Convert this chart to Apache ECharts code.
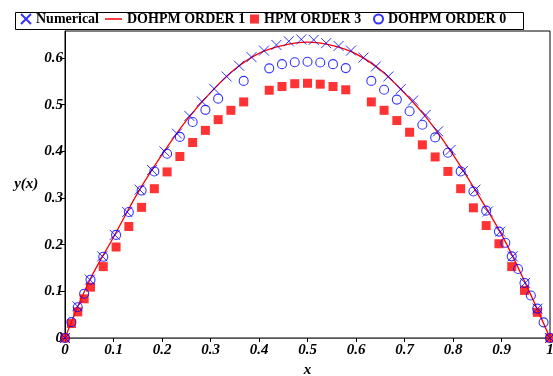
<!DOCTYPE html>
<html lang="en" style="height: 100%">
<head>
<meta charset="utf-8">
<title>DOHPM vs HPM</title>
</head>
<body style="height: 100%; margin: 0">
<div id="container" style="width: 553px; height: 376px"></div>

<script type="text/javascript" src="https://cdn.jsdelivr.net/npm/echarts/dist/echarts.min.js"></script>

<script type="text/javascript">
var dom = document.getElementById('container');
var myChart = echarts.init(dom, null, { renderer: 'canvas' });
var option;

// Numerical solution (blue crosses)
var numX = [0, 0.0256, 0.0513, 0.0769, 0.1026, 0.1282, 0.1538, 0.1795, 0.2051, 0.2308,
    0.2564, 0.2821, 0.3077, 0.3333, 0.359, 0.3846, 0.4103, 0.4359, 0.4615, 0.4872,
    0.5128, 0.5385, 0.5641, 0.5897, 0.6154, 0.641, 0.6667, 0.6923, 0.7179, 0.7436,
    0.7692, 0.7949, 0.8205, 0.8462, 0.8718, 0.8974, 0.9231, 0.9487, 0.9744, 1];
var numY = [0, 0.068, 0.125, 0.175, 0.221, 0.270, 0.318, 0.360, 0.400, 0.438,
    0.476, 0.507, 0.534, 0.5605, 0.5835, 0.602, 0.616, 0.628, 0.636, 0.640,
    0.639, 0.632, 0.626, 0.616, 0.601, 0.582, 0.5605, 0.5335, 0.509, 0.478,
    0.443, 0.403, 0.358, 0.318, 0.271, 0.228, 0.175, 0.118, 0.063, 0];

// DOHPM order 1 (red line)
var order1X = [0, 0.05, 0.1, 0.15, 0.2, 0.25, 0.3, 0.35, 0.4, 0.45, 0.5,
    0.55, 0.6, 0.65, 0.7, 0.75, 0.8, 0.85, 0.9, 0.95, 1];
var order1Y = [0, 0.122, 0.216, 0.311, 0.393, 0.466, 0.526, 0.576, 0.610, 0.627, 0.634,
    0.627, 0.609, 0.575, 0.525, 0.466, 0.393, 0.310, 0.222, 0.116, 0];

// HPM order 3 (red squares)
var hpmX = [0, 0.0132, 0.0263, 0.0395, 0.0526, 0.0789, 0.1053, 0.1316, 0.1579, 0.1842,
    0.2105, 0.2368, 0.2632, 0.2895, 0.3158, 0.3421, 0.3684, 0.4211, 0.4474, 0.4737,
    0.5, 0.5263, 0.5526, 0.5789, 0.6316, 0.6579, 0.6842, 0.7105, 0.7368, 0.7632,
    0.7895, 0.8158, 0.8421, 0.8684, 0.8947, 0.9211, 0.9474, 0.9737, 1];
var hpmY = [0, 0.031, 0.056, 0.084, 0.109, 0.153, 0.195, 0.239, 0.280, 0.320,
    0.356, 0.389, 0.419, 0.445, 0.468, 0.488, 0.506, 0.531, 0.539, 0.545,
    0.546, 0.544, 0.539, 0.532, 0.506, 0.488, 0.466, 0.441, 0.414, 0.388,
    0.357, 0.320, 0.279, 0.241, 0.202, 0.153, 0.102, 0.055, 0];

// DOHPM order 0 (blue circles)
var order0X = [0, 0.0132, 0.0263, 0.0395, 0.0526, 0.0789, 0.1053, 0.1316, 0.1579, 0.1842,
    0.2105, 0.2368, 0.2632, 0.2895, 0.3158, 0.3684, 0.4211, 0.4474, 0.4737, 0.5,
    0.5263, 0.5526, 0.5789, 0.6316, 0.6579, 0.6842, 0.7105, 0.7368, 0.7632, 0.7895,
    0.8158, 0.8421, 0.8684, 0.8947, 0.9079, 0.9211, 0.9342, 0.9474, 0.9605, 0.9737,
    0.9868, 1];
var order0Y = [0, 0.034, 0.066, 0.095, 0.125, 0.174, 0.221, 0.270, 0.316, 0.357,
    0.395, 0.431, 0.463, 0.489, 0.513, 0.551, 0.578, 0.587, 0.591, 0.592,
    0.5905, 0.587, 0.5785, 0.551, 0.532, 0.511, 0.486, 0.457, 0.430, 0.397,
    0.357, 0.314, 0.273, 0.228, 0.204, 0.175, 0.148, 0.118, 0.091, 0.063,
    0.0335, 0];

var yTicks = [0, 0.1, 0.2, 0.3, 0.4, 0.5, 0.6];

function pairs(xs, ys) {
    return xs.map(function (x, i) { return [x, ys[i]]; });
}

var serif = 'Liberation Serif';
var tickFont = { fontFamily: serif, fontWeight: 'bold', fontStyle: 'italic', fontSize: 15, color: '#000' };
var legendFont = { fontFamily: serif, fontWeight: 'bold', fontSize: 14, color: '#000' };
var crossPath = 'path://M0,0L10,10M10,0L0,10';

function legendAt(name, left, w, h, icon) {
    var item = { name: name };
    if (icon) item.icon = icon;
    return {
        data: [item], left: left, top: 12, itemWidth: w, itemHeight: h,
        padding: 0, selectedMode: false, textStyle: legendFont
    };
}

option = {
    animation: false,
    backgroundColor: '#fff',
    graphic: [{
        type: 'rect', left: 13, top: 10,
        shape: { width: 508, height: 17 },
        style: { fill: 'none', stroke: '#000', lineWidth: 1 }
    }],
    legend: [
        legendAt('Numerical', 20, 10, 10),
        legendAt('DOHPM ORDER 1', 105, 17, 1.5, 'rect'),
        legendAt('HPM ORDER 3', 250, 9, 9),
        legendAt('DOHPM ORDER 0', 373, 9, 9)
    ],
    grid: {
        left: 65, right: 3, top: 31, bottom: 38,
        containLabel: false, outerBoundsMode: 'none',
        show: true, borderColor: '#000', borderWidth: 1
    },
    xAxis: {
        type: 'value', min: 0, max: 1, interval: 0.1,
        name: 'x', nameLocation: 'middle', nameGap: 22,
        nameTextStyle: tickFont,
        axisLine: { lineStyle: { color: '#555', width: 1 } },
        axisTick: { length: 4, lineStyle: { color: '#000' } },
        axisLabel: Object.assign({ margin: 5 }, tickFont),
        splitLine: { show: false }
    },
    yAxis: {
        type: 'value', min: 0, max: 0.658,
        name: 'y(x)', nameLocation: 'middle', nameGap: 18, nameRotate: 0,
        nameTextStyle: tickFont,
        axisLine: { show: true, lineStyle: { color: '#000', width: 1 } },
        axisTick: { show: true, length: 5, customValues: yTicks, lineStyle: { color: '#000' } },
        axisLabel: Object.assign({ margin: 2, customValues: yTicks }, tickFont),
        splitLine: { show: false }
    },
    series: [
        {
            name: 'Numerical', type: 'scatter', z: 5,
            symbol: crossPath, symbolSize: 10,
            itemStyle: { color: 'rgba(0,0,0,0)', borderColor: '#0000ff', borderWidth: 1 },
            data: pairs(numX, numY)
        },
        {
            name: 'DOHPM ORDER 1', type: 'line', z: 3,
            smooth: 0.35, showSymbol: false, symbol: 'none',
            lineStyle: { color: '#ff0000', width: 1.3 },
            itemStyle: { color: '#ff0000' },
            data: pairs(order1X, order1Y)
        },
        {
            name: 'HPM ORDER 3', type: 'scatter', z: 2,
            symbol: 'rect', symbolSize: 9,
            itemStyle: { color: '#ff0000' },
            data: pairs(hpmX, hpmY)
        },
        {
            name: 'DOHPM ORDER 0', type: 'scatter', z: 4,
            symbol: 'circle', symbolSize: 9,
            itemStyle: { color: 'rgba(0,0,0,0)', borderColor: '#0000ff', borderWidth: 1.1 },
            data: pairs(order0X, order0Y)
        }
    ]
};

if (option && typeof option === 'object') {
    myChart.setOption(option);
}

window.addEventListener('resize', myChart.resize);
</script>
</body>
</html>
